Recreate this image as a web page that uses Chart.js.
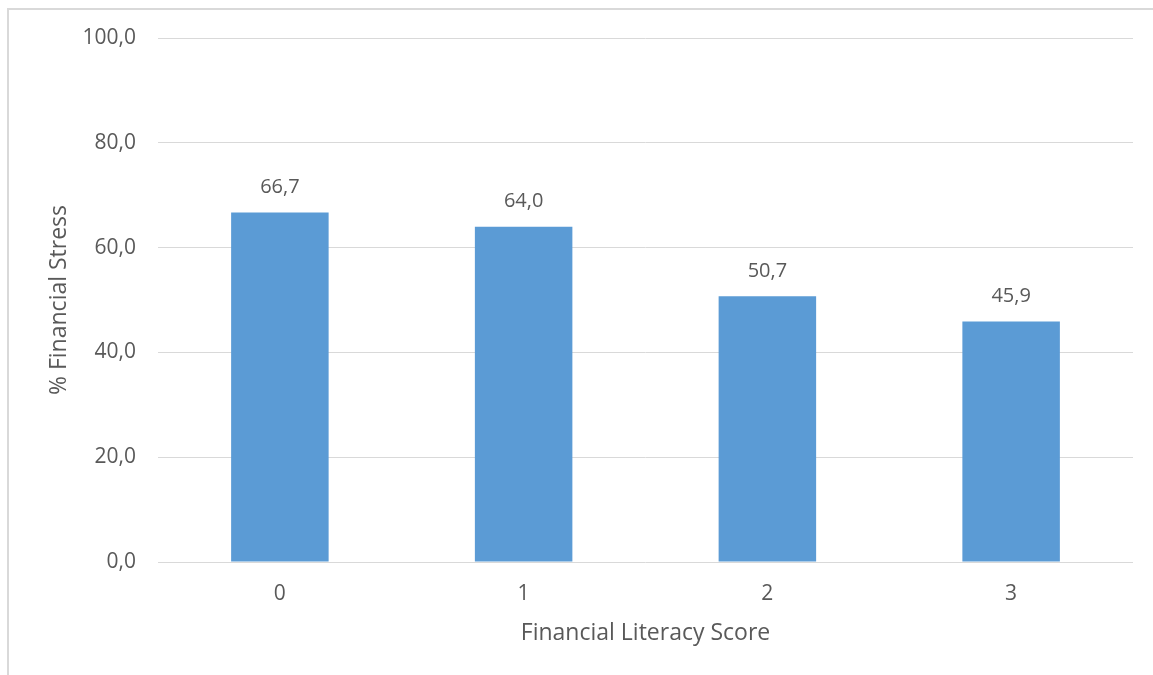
<!DOCTYPE html>
<html>
<head>
<meta charset="utf-8">
<script src="https://cdn.jsdelivr.net/npm/chart.js@4"></script>
<style>
  html, body { margin: 0; padding: 0; background: #fff; overflow: hidden; }
  #wrap { position: relative; width: 1153px; height: 675px; }
  #frame { position: absolute; left: 7px; top: 8px; width: 1200px; height: 700px;
           border: 2px solid #d9d9d9; box-sizing: border-box; pointer-events: none; }
  canvas { position: absolute; left: 0; top: 0; }
</style>
</head>
<body>
<div id="wrap">
  <canvas id="myChart" width="1153" height="675"></canvas>
  <div id="frame"></div>
</div>
<script>
// data
var scores = ['0', '1', '2', '3'];
var stressPct = [66.7, 64.0, 50.7, 45.9];
var yTicks = [0, 20, 40, 60, 80, 100];

var textColor = '#595959';
var fontFamily = '"Open Sans", "Noto Sans", sans-serif';

function fmt(v) {
    return v.toFixed(1).replace('.', ',');
}

// small plugin to put the values above the bars
var valueLabels = {
    id: 'valueLabels',
    afterDatasetsDraw: function(chart) {
        var ctx = chart.ctx;
        var meta = chart.getDatasetMeta(0);
        ctx.save();
        ctx.fillStyle = textColor;
        ctx.font = '20px ' + fontFamily;
        ctx.textAlign = 'center';
        ctx.textBaseline = 'bottom';
        meta.data.forEach(function(bar, i) {
            ctx.fillText(fmt(chart.data.datasets[0].data[i]), bar.x, bar.y - 15);
        });
        ctx.restore();
    }
};

var ctx = document.getElementById('myChart').getContext('2d');
var chart = new Chart(ctx, {
    type: 'bar',
    data: {
        labels: scores,
        datasets: [{
            label: '% Financial Stress',
            backgroundColor: '#5b9bd5',
            data: stressPct,
            barPercentage: 0.4,
            categoryPercentage: 1.0
        }]
    },
    options: {
        responsive: false,
        animation: false,
        devicePixelRatio: 1,
        layout: { padding: { left: 45, right: 20, top: 38, bottom: 0 } },
        plugins: {
            legend: { display: false },
            tooltip: { enabled: false }
        },
        scales: {
            x: {
                grid: { display: false, drawTicks: false },
                border: { display: false },
                ticks: { color: textColor, font: { family: fontFamily, size: 21 }, padding: 19 },
                title: {
                    display: true,
                    text: 'Financial Literacy Score',
                    color: textColor,
                    font: { family: fontFamily, size: 23 },
                    padding: { top: 0, bottom: 28 }
                },
                afterFit: function(scale) { scale.height = 675 - 562; }
            },
            y: {
                min: 0,
                max: 100,
                afterBuildTicks: function(scale) {
                    scale.ticks = yTicks.map(function(v) { return { value: v }; });
                },
                grid: { color: '#d9d9d9', lineWidth: 1, drawTicks: false },
                border: { display: false },
                ticks: {
                    color: textColor,
                    font: { family: fontFamily, size: 21 },
                    padding: 22,
                    callback: function(v) { return fmt(v); }
                },
                title: {
                    display: true,
                    text: '% Financial Stress',
                    color: textColor,
                    font: { family: fontFamily, size: 23 },
                    padding: { top: 1, bottom: 0 }
                },
                afterFit: function(scale) { scale.width = 158 - 45; }
            }
        }
    },
    plugins: [valueLabels]
});
</script>
</body>
</html>
